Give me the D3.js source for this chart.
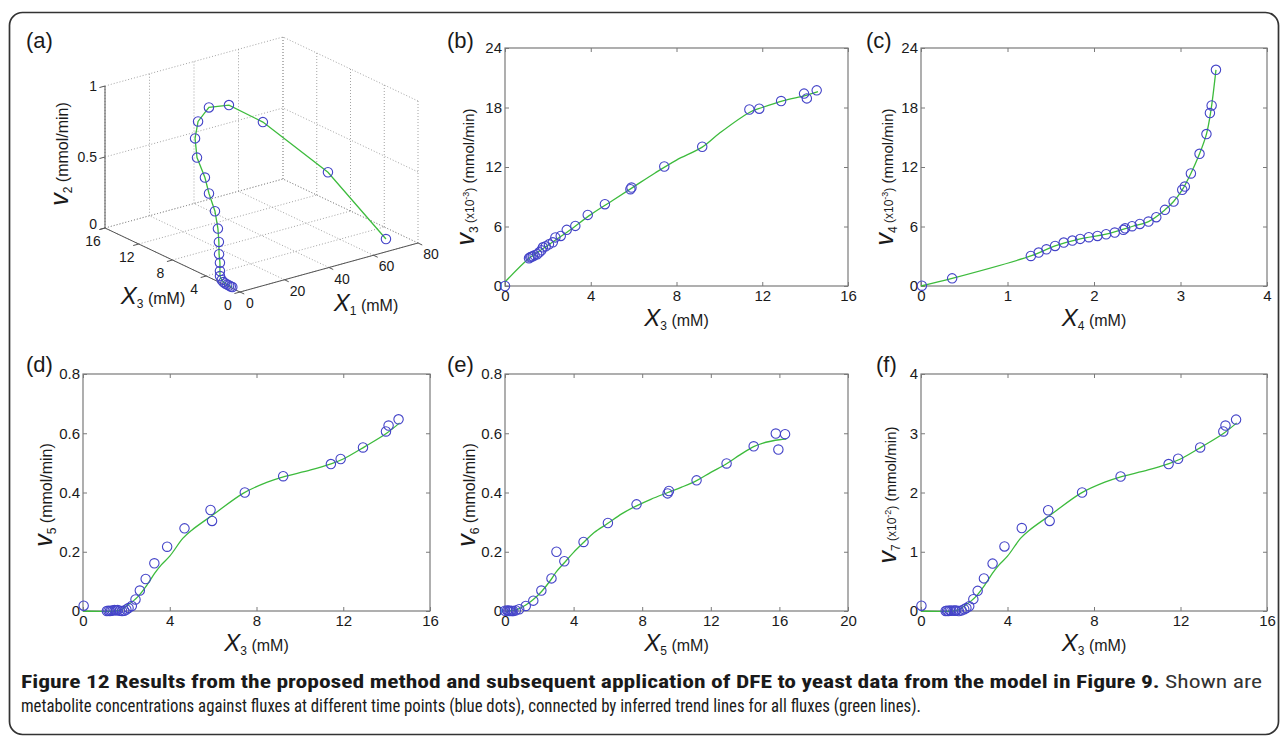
<!DOCTYPE html>
<html><head><meta charset="utf-8">
<script src="https://cdn.jsdelivr.net/npm/d3@7"></script>
<style>
body{margin:0;background:#fff;}
svg{display:block;}
text{font-family:Arial,"Liberation Sans",Helvetica,sans-serif;fill:#1a1a1a;}
</style>
</head><body>
<svg id="chart" width="1282" height="738"></svg>
<script>
// ---------------- DATA ----------------
// (a) 3D trajectory: X1 (mM), X3 (mM), v2 (mmol/min)
const a_x1 = [65.6, 61.9, 53.9, 48.5, 41.4, 35.0, 29.1, 25.8, 19.5, 14.5, 11.5, 7.9, 5.3, 3.1, 1.6, 0.85, 0.3, 0.3, 0.3, 0.4, 0.4, 0.5, 0.6, 0.8];
const a_x3 = [0, 5.9, 11.5, 14.1, 14.6, 14.2, 13.0, 11.9, 9.3, 7.5, 6.0, 4.7, 3.9, 3.3, 2.8, 2.6, 2.45, 2.25, 2.05, 1.85, 1.62, 1.42, 1.25, 1.12];
const a_v2 = [0.09, 0.41, 0.64, 0.71, 0.71, 0.65, 0.59, 0.50, 0.46, 0.42, 0.35, 0.28, 0.22, 0.16, 0.12, 0.071, 0.042, 0.02, 0.011, 0.006, 0.005, 0.004, 0.001, 0];
const a_x1Ticks = [0, 20, 40, 60, 80];
const a_x3Ticks = [0, 4, 8, 12, 16];
const a_vTicks = [0, 0.5, 1];

// (b) X3 vs v3 (x10^-3)
const b_x3 = [0, 1.12, 1.18, 1.23, 1.3, 1.38, 1.5, 1.6, 1.7, 1.77, 1.9, 2.05, 2.23, 2.35, 2.6, 2.88, 3.28, 3.86, 4.66, 5.85, 5.9, 7.43, 9.2, 11.4, 11.86, 12.88, 13.95, 14.08, 14.54];
const b_v3 = [0, 2.8, 2.9, 2.96, 3.0, 3.1, 3.2, 3.4, 3.6, 3.9, 4.0, 4.2, 4.4, 4.9, 5.05, 5.66, 6.06, 7.17, 8.25, 9.76, 9.93, 12.05, 14.04, 17.8, 17.88, 18.65, 19.4, 18.92, 19.73];
const b_trendX = [0, 1.1, 2, 3, 4, 5, 6, 7, 8, 9.2, 10, 11.4, 12, 13, 14, 14.6];
const b_trendY = [0.4, 2.75, 4.1, 5.6, 7.2, 8.6, 10.0, 11.4, 12.7, 14.0, 15.4, 17.5, 18.0, 18.7, 19.2, 19.6];

// (c) X4 vs v4 (x10^-3)
const c_x4 = [0.01, 0.36, 1.27, 1.36, 1.45, 1.55, 1.65, 1.75, 1.84, 1.94, 2.04, 2.14, 2.24, 2.34, 2.36, 2.44, 2.53, 2.63, 2.72, 2.82, 2.92, 3.02, 3.05, 3.12, 3.22, 3.3, 3.34, 3.36, 3.41];
const c_v4 = [0.03, 0.77, 3.03, 3.37, 3.7, 4.04, 4.38, 4.58, 4.75, 4.92, 5.05, 5.22, 5.39, 5.66, 5.82, 6.03, 6.26, 6.5, 6.94, 7.68, 8.52, 9.7, 10.03, 11.35, 13.33, 15.32, 17.44, 18.2, 21.8];
const c_trendX = [0, 0.36, 1.27, 1.55, 1.84, 2.14, 2.44, 2.63, 2.82, 2.92, 3.02, 3.12, 3.22, 3.3, 3.35, 3.41];
const c_trendY = [0, 0.77, 3.03, 4.04, 4.75, 5.22, 6.0, 6.5, 7.68, 8.52, 9.7, 11.35, 13.33, 15.32, 17.6, 21.8];

// (d) X3 vs v5
const d_x3 = [0.03, 1.1, 1.17, 1.24, 1.3, 1.37, 1.45, 1.52, 1.6, 1.7, 1.8, 1.9, 2.0, 2.1, 2.25, 2.42, 2.62, 2.89, 3.29, 3.88, 4.68, 5.88, 5.95, 7.46, 9.23, 11.43, 11.88, 12.91, 13.97, 14.09, 14.55];
const d_v5 = [0.018, 0, 0.001, 0, 0.001, 0.002, 0.003, 0.002, 0.003, 0.001, 0, 0.001, 0.005, 0.01, 0.017, 0.039, 0.069, 0.108, 0.161, 0.217, 0.279, 0.341, 0.304, 0.4, 0.455, 0.496, 0.513, 0.552, 0.606, 0.626, 0.647];
const d_trendX = [0, 1.5, 1.8, 2.0, 2.5, 3.0, 3.3, 3.6, 4.0, 4.6, 5.0, 6.0, 7.4, 8.5, 9.2, 10.5, 11.4, 12.0, 13.0, 14.0, 14.6];
const d_trendY = [0, 0, 0.006, 0.017, 0.046, 0.093, 0.127, 0.155, 0.185, 0.245, 0.272, 0.325, 0.398, 0.435, 0.452, 0.476, 0.496, 0.513, 0.555, 0.6, 0.635];

// (e) X5 vs v6
const e_x5 = [0, 0.12, 0.19, 0.26, 0.33, 0.4, 0.48, 0.63, 0.83, 1.21, 1.65, 2.12, 2.71, 3.0, 3.46, 4.58, 6.0, 7.67, 9.48, 9.56, 11.17, 12.92, 14.5, 15.79, 15.94, 16.33];
const e_v6 = [0.001, 0.002, 0.001, 0, 0.001, 0, 0, 0.002, 0.006, 0.017, 0.035, 0.069, 0.11, 0.2, 0.168, 0.233, 0.297, 0.36, 0.397, 0.405, 0.441, 0.498, 0.556, 0.599, 0.545, 0.597];
const e_trendX = [0.1, 0.5, 0.83, 1.21, 1.65, 2.12, 2.71, 3.0, 3.46, 4.0, 4.58, 5.2, 6.0, 6.8, 7.67, 8.5, 9.5, 10.3, 11.17, 12.0, 12.92, 13.7, 14.5, 15.0, 15.5, 16.0, 16.4];
const e_trendY = [0, 0.002, 0.008, 0.02, 0.039, 0.065, 0.108, 0.133, 0.163, 0.198, 0.231, 0.265, 0.296, 0.328, 0.355, 0.377, 0.4, 0.418, 0.44, 0.468, 0.497, 0.527, 0.555, 0.566, 0.573, 0.578, 0.58];

// (f) X3 vs v7 (x10^-2)
const f_x3 = [0.02, 1.14, 1.2, 1.26, 1.33, 1.4, 1.5, 1.57, 1.63, 1.75, 1.88, 2.0, 2.1, 2.23, 2.42, 2.62, 2.91, 3.31, 3.86, 4.66, 5.88, 5.95, 7.45, 9.23, 11.45, 11.89, 12.91, 13.98, 14.08, 14.57];
const f_v7 = [0.09, 0, 0.005, 0, 0.01, 0.005, 0.01, 0.005, 0.01, 0, 0.01, 0.03, 0.05, 0.08, 0.2, 0.34, 0.55, 0.8, 1.09, 1.4, 1.7, 1.52, 2.0, 2.27, 2.48, 2.57, 2.76, 3.03, 3.13, 3.23];
const f_trendX = [0, 1.5, 1.8, 2.0, 2.5, 3.0, 3.3, 3.6, 4.0, 4.6, 5.0, 6.0, 7.4, 8.5, 9.2, 10.5, 11.4, 12.0, 13.0, 14.0, 14.6];
const f_trendY = [0, 0, 0.03, 0.085, 0.23, 0.465, 0.635, 0.775, 0.925, 1.225, 1.36, 1.625, 1.99, 2.175, 2.26, 2.38, 2.48, 2.565, 2.775, 3.0, 3.175];

// tick labels
const ticksX16 = [0, 4, 8, 12, 16];
const ticksX4 = [0, 1, 2, 3, 4];
const ticksX20 = [0, 4, 8, 12, 16, 20];
const ticksY24 = [0, 6, 12, 18, 24];
const ticksY08 = [0, 0.2, 0.4, 0.6, 0.8];
const ticksY4 = [0, 1, 2, 3, 4];

const captionBold = "Figure 12 Results from the proposed method and subsequent application of DFE to yeast data from the model in Figure 9.";
const captionRest1 = " Shown are";
const captionLine2 = "metabolite concentrations against fluxes at different time points (blue dots), connected by inferred trend lines for all fluxes (green lines).";

// ---------------- STYLE ----------------
const BLUE = "#4444c8";
const GREEN = "#3dbb3d";
const AXIS = "#7a7a7a";
const FONT = "Arial, 'Liberation Sans', Helvetica, sans-serif";
const R = 4.7;

const svg = d3.select("#chart");
svg.append("rect").attr("x", 9.5).attr("y", 12.5).attr("width", 1269).attr("height", 722)
  .attr("rx", 13).attr("fill", "none").attr("stroke", "#333").attr("stroke-width", 1.7);

function rich(sel, parts) {
  sel.style("font-family", FONT);
  parts.forEach(p => {
    const t = sel.append("tspan").text(p.t).style("font-size", p.s + "px");
    if (p.i) t.style("font-style", "italic");
    if (p.dy) t.attr("dy", p.dy);
  });
}

function panelLabel(txt, x, y) {
  svg.append("text").attr("x", x).attr("y", y).style("font-size", "22px").style("font-family", FONT).text(txt);
}

function panel2d(cfg) {
  const x = d3.scaleLinear().domain(cfg.xd).range([cfg.x0, cfg.x1]);
  const y = d3.scaleLinear().domain(cfg.yd).range([cfg.y1, cfg.y0]);
  const g = svg.append("g");
  g.append("rect").attr("x", cfg.x0).attr("y", cfg.y0).attr("width", cfg.x1 - cfg.x0)
    .attr("height", cfg.y1 - cfg.y0).attr("fill", "none").attr("stroke", AXIS).attr("stroke-width", 1.2);
  const fmt = d => String(d);
  const styleAx = a => { a.select(".domain").remove(); a.selectAll("line").attr("stroke", AXIS);
    a.attr("font-family", null);
    a.selectAll("text").style("font-size", "15px").attr("fill", "#1a1a1a").style("font-family", FONT); };
  g.append("g").attr("transform", `translate(0,${cfg.y1})`)
    .call(d3.axisBottom(x).tickValues(cfg.xt).tickFormat(fmt).tickSize(-4).tickPadding(4)).call(styleAx);
  g.append("g").attr("transform", `translate(0,${cfg.y0})`)
    .call(d3.axisTop(x).tickValues(cfg.xt).tickFormat("").tickSize(-4)).call(styleAx);
  g.append("g").attr("transform", `translate(${cfg.x0},0)`)
    .call(d3.axisLeft(y).tickValues(cfg.yt).tickFormat(fmt).tickSize(-4).tickPadding(3)).call(styleAx);
  g.append("g").attr("transform", `translate(${cfg.x1},0)`)
    .call(d3.axisRight(y).tickValues(cfg.yt).tickFormat("").tickSize(-4)).call(styleAx);

  const trend = cfg.tx.map((v, i) => [v, cfg.ty[i]]);
  g.append("path").datum(trend)
    .attr("d", d3.line().x(d => x(d[0])).y(d => y(d[1])).curve(d3.curveCatmullRom.alpha(0.5)))
    .attr("fill", "none").attr("stroke", GREEN).attr("stroke-width", 1.3);
  const pts = cfg.px.map((v, i) => [v, cfg.py[i]]);
  g.selectAll("circle.pt").data(pts).join("circle").attr("class", "pt")
    .attr("cx", d => x(d[0])).attr("cy", d => y(d[1])).attr("r", R)
    .attr("fill", "none").attr("stroke", BLUE).attr("stroke-width", 1.1);

  const xl = g.append("text").attr("x", (cfg.x0 + cfg.x1) / 2).attr("y", cfg.y1 + 40).attr("text-anchor", "middle");
  rich(xl, cfg.xl);
  const yl = g.append("text").attr("transform", `translate(${cfg.ylx},${cfg.yly}) rotate(-90)`).attr("text-anchor", "middle");
  rich(yl, cfg.yl);
}

// ---- (b)
panel2d({x0: 505, x1: 848, y0: 48, y1: 286, xd: [0, 16], yd: [0, 24], xt: ticksX16, yt: ticksY24,
  px: b_x3, py: b_v3, tx: b_trendX, ty: b_trendY,
  xl: [{t: "X", s: 24, i: true}, {t: "3", s: 12, dy: 4}, {t: " (mM)", s: 16, dy: -4}],
  ylx: 474, yly: 177,
  yl: [{t: "v", s: 25, i: true}, {t: "3", s: 12, dy: 4}, {t: " (x10", s: 12, dy: -4}, {t: "-3", s: 9, dy: -5}, {t: ")", s: 12, dy: 5}, {t: " (mmol/min)", s: 15}]});
// ---- (c)
panel2d({x0: 921, x1: 1267, y0: 48, y1: 286, xd: [0, 4], yd: [0, 24], xt: ticksX4, yt: ticksY24,
  px: c_x4, py: c_v4, tx: c_trendX, ty: c_trendY,
  xl: [{t: "X", s: 24, i: true}, {t: "4", s: 12, dy: 4}, {t: " (mM)", s: 16, dy: -4}],
  ylx: 893, yly: 177,
  yl: [{t: "v", s: 25, i: true}, {t: "4", s: 12, dy: 4}, {t: " (x10", s: 12, dy: -4}, {t: "-3", s: 9, dy: -5}, {t: ")", s: 12, dy: 5}, {t: " (mmol/min)", s: 15}]});
// ---- (d)
panel2d({x0: 83, x1: 430, y0: 374, y1: 611, xd: [0, 16], yd: [0, 0.8], xt: ticksX16, yt: ticksY08,
  px: d_x3, py: d_v5, tx: d_trendX, ty: d_trendY,
  xl: [{t: "X", s: 24, i: true}, {t: "3", s: 12, dy: 4}, {t: " (mM)", s: 16, dy: -4}],
  ylx: 52, yly: 495,
  yl: [{t: "v", s: 25, i: true}, {t: "5", s: 12, dy: 4}, {t: " (mmol/min)", s: 16, dy: -4}]});
// ---- (e)
panel2d({x0: 505, x1: 848, y0: 374, y1: 611, xd: [0, 20], yd: [0, 0.8], xt: ticksX20, yt: ticksY08,
  px: e_x5, py: e_v6, tx: e_trendX, ty: e_trendY,
  xl: [{t: "X", s: 24, i: true}, {t: "5", s: 12, dy: 4}, {t: " (mM)", s: 16, dy: -4}],
  ylx: 475, yly: 495,
  yl: [{t: "v", s: 25, i: true}, {t: "6", s: 12, dy: 4}, {t: " (mmol/min)", s: 16, dy: -4}]});
// ---- (f)
panel2d({x0: 921, x1: 1267, y0: 374, y1: 611, xd: [0, 16], yd: [0, 4], xt: ticksX16, yt: ticksY4,
  px: f_x3, py: f_v7, tx: f_trendX, ty: f_trendY,
  xl: [{t: "X", s: 24, i: true}, {t: "3", s: 12, dy: 4}, {t: " (mM)", s: 16, dy: -4}],
  ylx: 896, yly: 495,
  yl: [{t: "v", s: 25, i: true}, {t: "7", s: 12, dy: 4}, {t: " (x10", s: 12, dy: -4}, {t: "-2", s: 9, dy: -5}, {t: ")", s: 12, dy: 5}, {t: " (mmol/min)", s: 15}]});

// ---- (a) 3D panel
(function () {
  const s1 = d3.scaleLinear().domain([0, 80]).range([0, 1]);
  const s3 = d3.scaleLinear().domain([0, 16]).range([0, 1]);
  const sv = d3.scaleLinear().domain([0, 1]).range([0, 1]);
  const O = [240, 292], E1 = [178, -49], E3 = [-135, -64], EV = [0, -142];
  const P = (a, b, c) => [O[0] + E1[0] * s1(a) + E3[0] * s3(b) + EV[0] * sv(c),
                          O[1] + E1[1] * s1(a) + E3[1] * s3(b) + EV[1] * sv(c)];
  const g = svg.append("g");
  const grid = [];
  a_x1Ticks.forEach(t => { grid.push([P(t, 0, 0), P(t, 16, 0)]); grid.push([P(t, 16, 0), P(t, 16, 1)]); });
  a_x3Ticks.forEach(t => { grid.push([P(0, t, 0), P(80, t, 0)]); grid.push([P(80, t, 0), P(80, t, 1)]); });
  a_vTicks.forEach(t => { grid.push([P(0, 16, t), P(80, 16, t)]); grid.push([P(80, 0, t), P(80, 16, t)]); });
  g.selectAll("line.grid").data(grid).join("line").attr("class", "grid")
    .attr("x1", d => d[0][0]).attr("y1", d => d[0][1]).attr("x2", d => d[1][0]).attr("y2", d => d[1][1])
    .attr("stroke", "#8c8c8c").attr("stroke-width", 0.8).attr("stroke-dasharray", "1,2");
  const axes = [[P(0, 16, 0), P(0, 16, 1)], [P(0, 16, 0), P(0, 0, 0)], [P(0, 0, 0), P(80, 0, 0)]];
  a_vTicks.forEach(t => axes.push([P(0, 16, t), P(-2.5, 16, t)]));
  a_x3Ticks.forEach(t => axes.push([P(0, t, 0), P(-2.5, t, 0)]));
  a_x1Ticks.forEach(t => axes.push([P(t, 0, 0), P(t, -0.5, 0)]));
  g.selectAll("line.ax").data(axes).join("line").attr("class", "ax")
    .attr("x1", d => d[0][0]).attr("y1", d => d[0][1]).attr("x2", d => d[1][0]).attr("y2", d => d[1][1])
    .attr("stroke", "#555").attr("stroke-width", 1);
  // tick labels
  a_vTicks.forEach(t => { const p = P(0, 16, t);
    g.append("text").attr("x", p[0] - 8).attr("y", p[1] + (t === 0 ? 0.5 : 5)).attr("text-anchor", "end")
      .style("font-size", "14px").style("font-family", FONT).text(String(t)); });
  a_x3Ticks.forEach(t => { const p = P(0, t, 0);
    g.append("text").attr("x", p[0] - 12).attr("y", p[1] + 17.5).attr("text-anchor", "middle")
      .style("font-size", "14px").style("font-family", FONT).text(String(t)); });
  a_x1Ticks.forEach(t => { const p = P(t, 0, 0);
    g.append("text").attr("x", p[0] + (t === 0 ? 10 : 13)).attr("y", p[1] + 16).attr("text-anchor", "middle")
      .style("font-size", "14px").style("font-family", FONT).text(String(t)); });
  // trajectory
  const pts = a_x1.map((v, i) => P(v, a_x3[i], a_v2[i]));
  g.append("path").datum(pts).attr("d", d3.line().curve(d3.curveLinear))
    .attr("fill", "none").attr("stroke", GREEN).attr("stroke-width", 1.3);
  g.selectAll("circle").data(pts).join("circle").attr("cx", d => d[0]).attr("cy", d => d[1]).attr("r", R)
    .attr("fill", "none").attr("stroke", BLUE).attr("stroke-width", 1.1);
  // axis labels
  const yl = g.append("text").attr("transform", "translate(68,154) rotate(-90)").attr("text-anchor", "middle");
  rich(yl, [{t: "v", s: 25, i: true}, {t: "2", s: 12, dy: 4}, {t: " (mmol/min)", s: 16, dy: -4}]);
  const x3l = g.append("text").attr("x", 153).attr("y", 304).attr("text-anchor", "middle");
  rich(x3l, [{t: "X", s: 24, i: true}, {t: "3", s: 12, dy: 4}, {t: " (mM)", s: 16, dy: -4}]);
  const x1l = g.append("text").attr("x", 366).attr("y", 311).attr("text-anchor", "middle");
  rich(x1l, [{t: "X", s: 24, i: true}, {t: "1", s: 12, dy: 4}, {t: " (mM)", s: 16, dy: -4}]);
})();

panelLabel("(a)", 26, 48);
panelLabel("(b)", 447, 48);
panelLabel("(c)", 866, 48);
panelLabel("(d)", 26, 372);
panelLabel("(e)", 447, 372);
panelLabel("(f)", 876, 372);

// caption
const CAPFONT = "'Liberation Sans Narrow','Roboto Condensed','Open Sans',sans-serif";
const cap1 = svg.append("text").attr("x", 21).attr("y", 688)
  .attr("textLength", 1241).attr("lengthAdjust", "spacingAndGlyphs")
  .style("font-family", CAPFONT).style("font-size", "18px");
cap1.append("tspan").text(captionBold).style("font-weight", "bold").attr("fill", "#1a1a1a");
cap1.append("tspan").text(captionRest1).attr("fill", "#333");
svg.append("text").attr("x", 21).attr("y", 712)
  .attr("textLength", 900).attr("lengthAdjust", "spacingAndGlyphs")
  .style("font-family", CAPFONT).style("font-size", "18px")
  .attr("fill", "#333").text(captionLine2);
</script>
</body></html>
